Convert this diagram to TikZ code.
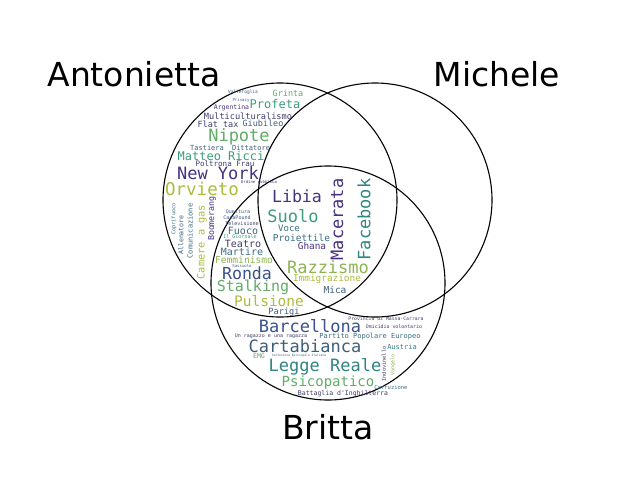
\documentclass[tikz,border=0pt]{standalone}
\usepackage{fontspec}
\usepackage{tikz}
\newfontfamily\labfont{DejaVu Sans}
\newfontfamily\wcfont{DejaVu Sans Mono}
% viridis-like shades of the word cloud
\definecolor{vpurple}{HTML}{46327E}
\definecolor{vdark}{HTML}{3E3C6E}
\definecolor{vblue}{HTML}{3B528B}
\definecolor{vslate}{HTML}{3E5F7C}
\definecolor{vsteel}{HTML}{3A6E84}
\definecolor{vteal}{HTML}{2F8580}
\definecolor{vsea}{HTML}{3E9C7A}
\definecolor{vgreen}{HTML}{62AC68}
\definecolor{vlime}{HTML}{8DB452}
\definecolor{vyellow}{HTML}{ADBB3E}
\tikzset{
	setlabel/.style={font=\labfont\fontsize{33}{33}\selectfont, inner sep=0pt},
	wd/.style={font=\wcfont\fontsize{#1}{#1}\selectfont, inner sep=0pt},
	setcircle/.style={line width=1.1pt}
}

\begin{document}
\begin{tikzpicture}[x=1pt,y=-1pt]
	\useasboundingbox[fill=white] (0,0) rectangle (640,480);
	
	%circles
	\draw[setcircle] (280,200) circle (117);	%Antonietta
	\draw[setcircle] (375,200) circle (117);	%Michele
	\draw[setcircle] (328,283) circle (117);	%Britta
	
	%set names
	\node[setlabel] (antonietta) at (134,74) {Antonietta};
	\node[setlabel] (michele) at (497,74) {Michele};
	\node[setlabel] (britta) at (328,427) {Britta};
	
	%Antonietta only
	\node[wd=4.5,vslate] (vallefoglia) at (243,92) {Vallefoglia};
	\node[wd=8.5,vgreen] (grinta) at (288,93) {Grinta};
	\node[wd=4,vslate] (privacy) at (241,100) {Privacy};
	\node[wd=12,vsea] (profeta) at (275,104) {Profeta};
	\node[wd=6.5,vpurple] (argentina) at (231.5,107.5) {Argentina};
	\node[wd=8.6,vdark] (multicult) at (248,116) {Multiculturalismo};
	\node[wd=8.5,vdark] (flattax) at (218,124.5) {Flat tax};
	\node[wd=8.5,vslate] (giubileo) at (263,123.5) {Giubileo};
	\node[wd=17,vgreen] (nipote) at (239,137) {Nipote};
	\node[wd=7,vslate] (tastiera) at (207,148) {Tastiera};
	\node[wd=7,vslate] (dittatore) at (251,148) {Dittatore};
	\node[wd=12,vsea] (ricci) at (221,156) {Matteo Ricci};
	\node[wd=7.5,vdark] (poltrona) at (225,163.7) {Poltrona Frau};
	\node[wd=17,vpurple] (newyork) at (218,173.5) {New York};
	\node[wd=4,vdark] (ordine) at (259,182.3) {Ordine pubblico};
	\node[wd=17.5,vyellow] (orvieto) at (202,189) {Orvieto};
	\node[wd=5.3,vsteel,rotate=90] (coprifuoco) at (174,219) {Coprifuoco};
	\node[wd=6.6,vslate,rotate=90] (allenatore) at (181,235) {Allenatore};
	\node[wd=7,vsteel,rotate=90] (comunicazione) at (190,231) {Comunicazione};
	\node[wd=10.3,vyellow,rotate=90] (camere) at (202,242) {Camere a gas};
	\node[wd=8.3,vpurple,rotate=90] (boomerang) at (212,218.5) {Boomerang};
	
	%Antonietta and Britta
	\node[wd=5,vslate] (questura) at (238,212) {Questura};
	\node[wd=5,vblue] (casapound) at (237,218) {CasaPound};
	\node[wd=5,vdark] (televisione) at (242,224) {Televisione};
	\node[wd=10,vslate] (fuoco) at (243,230.5) {Fuoco};
	\node[wd=5,vsea] (giornale) at (240,237) {Il Giornale};
	\node[wd=10,vdark] (teatro) at (243,243.5) {Teatro};
	\node[wd=10,vsteel] (martire) at (242,251.5) {Martire};
	\node[wd=9.6,vlime] (femminismo) at (244,259.6) {Femminismo};
	\node[wd=4,vslate] (sassuolo) at (242,265.5) {Sassuolo};
	\node[wd=16.6,vblue] (ronda) at (247,273.5) {Ronda};
	\node[wd=15,vgreen] (stalking) at (253,287.5) {Stalking};
	\node[wd=14.5,vyellow] (pulsione) at (269,301.5) {Pulsione};
	\node[wd=8.6,vslate] (parigi) at (284,312) {Parigi};
	
	%all three
	\node[wd=16.6,vpurple] (libia) at (297,196) {Libia};
	\node[wd=17,vsea] (suolo) at (293,216) {Suolo};
	\node[wd=9,vsteel] (voce) at (289,228.5) {Voce};
	\node[wd=9.5,vsteel] (proiettile) at (301.5,238) {Proiettile};
	\node[wd=9.4,vpurple] (ghana) at (312,246) {Ghana};
	\node[wd=17,vpurple,rotate=90] (macerata) at (337,219.5) {Macerata};
	\node[wd=17,vteal,rotate=90] (facebook) at (364,219.5) {Facebook};
	\node[wd=17,vlime] (razzismo) at (328,267.5) {Razzismo};
	\node[wd=9.4,vyellow] (immigrazione) at (327,279) {Immigrazione};
	\node[wd=9.5,vslate] (mica) at (335,289.5) {Mica};
	
	%Britta only
	\node[wd=17,vblue] (barcellona) at (310,326.5) {Barcellona};
	\node[wd=4.8,vdark] (massa) at (386,318.5) {Provincia di Massa-Carrara};
	\node[wd=4.9,vdark] (omicidio) at (394,327) {Omicidio volontario};
	\node[wd=5,vdark] (ragazzo) at (271,336.6) {Un ragazzo e una ragazza};
	\node[wd=7,vsteel] (ppe) at (370,336.5) {Partito Popolare Europeo};
	\node[wd=17,vslate] (cartabianca) at (305,346.2) {Cartabianca};
	\node[wd=7,vteal] (austria) at (402,347) {Austria};
	\node[wd=6.5,vgreen] (emg) at (259,356.3) {EMG};
	\node[wd=3,vslate] (cei) at (299,355.5) {Conferenza Episcopale Italiana};
	\node[wd=17,vteal] (legge) at (325,366.5) {Legge Reale};
	\node[wd=5.3,vdark,rotate=90] (indovinello) at (384,364) {Indovinello};
	\node[wd=5,vlime,rotate=90] (vangelo) at (393,365) {Vangelo};
	\node[wd=14,vgreen] (psicopatico) at (328,382.5) {Psicopatico};
	\node[wd=5.5,vsteel] (corruzione) at (391,387.5) {Corruzione};
	\node[wd=6.5,vdark] (battaglia) at (343,393.5) {Battaglia d'Inghilterra};
	
\end{tikzpicture}
\end{document}
